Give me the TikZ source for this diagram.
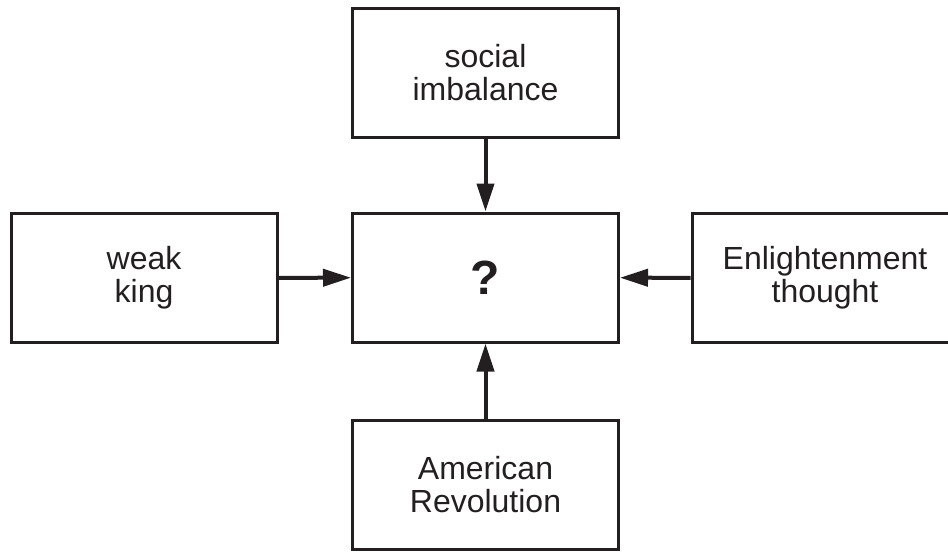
\documentclass[tikz,border=0pt]{standalone}
\usepackage{fontspec}
\setmainfont{Liberation Sans}
\usetikzlibrary{arrows.meta}

\newlength{\du}
\setlength{\du}{0.5pt}

\definecolor{inkcolor}{rgb}{0.137, 0.122, 0.125}

\tikzset{
  causebox/.style={draw=inkcolor, line width=3\du, minimum width=266\du,
    minimum height=129\du, inner sep=0pt, align=center, text=inkcolor,
    font=\fontsize{16}{16.5}\selectfont},
  causearrow/.style={draw=inkcolor, line width=4\du,
    -{Triangle[length=14pt,width=8.5pt]}},
}

\begin{document}
\begin{tikzpicture}
\pgftransformyscale{-1.000000}
\useasboundingbox (0\du,0\du) rectangle (948\du,552\du);
\clip (0\du,0\du) rectangle (948\du,552\du);
% boxes
\node[causebox] (imbalance) at (485.5\du,72.5\du){social\\imbalance};
\node[causebox, font=\fontsize{24}{24}\bfseries] (question) at (485.5\du,277.5\du){?};
\node[causebox] (king) at (144\du,278\du){weak\\king};
\node[causebox] (enlight) at (825\du,278\du){Enlightenment\\thought};
\node[causebox] (revolution) at (485.5\du,485\du){American\\Revolution};
% arrows
\draw[causearrow] (imbalance) -- (question);
\draw[causearrow] (king) -- (question);
\draw[causearrow] (enlight) -- (question);
\draw[causearrow] (revolution) -- (question);
\end{tikzpicture}
\end{document}
